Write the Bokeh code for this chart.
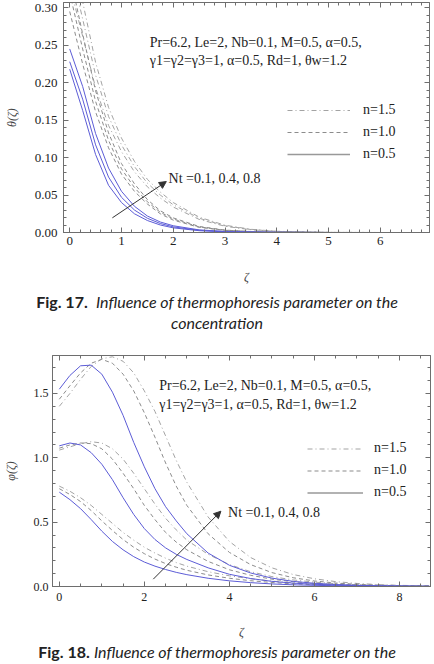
from bokeh.plotting import figure
from bokeh.layouts import column, row
from bokeh.models import (Range1d, LinearAxis, FixedTicker, Arrow, NormalHead,
                          Legend, LegendItem, Div, CustomJSTickFormatter)
from bokeh.core.properties import value
from bokeh.embed import file_html
from bokeh.resources import INLINE

# ---------------- Fig. 17 data: concentration profiles ----------------
zeta_a = [0, 0.25, 0.5, 0.75, 1.0, 1.25, 1.5, 1.75, 2.0, 2.5, 3.0, 3.5, 4.0, 5.0, 6.0, 7.0]

a_n05_nt01 = [0.218, 0.163, 0.104, 0.063, 0.040, 0.025, 0.016, 0.010, 0.0062, 0.0024, 0.0009, 0.0004, 0.0001, 0, 0, 0]
a_n05_nt04 = [0.228, 0.178, 0.117, 0.074, 0.047, 0.030, 0.019, 0.012, 0.0075, 0.0029, 0.0011, 0.0005, 0.0002, 0, 0, 0]
a_n05_nt08 = [0.245, 0.195, 0.132, 0.086, 0.055, 0.035, 0.022, 0.014, 0.009, 0.0035, 0.0014, 0.0006, 0.0002, 0, 0, 0]

a_n10_nt01 = [0.295, 0.225, 0.161, 0.113, 0.078, 0.055, 0.038, 0.025, 0.0165, 0.0069, 0.0028, 0.0011, 0.0004, 0, 0, 0]
a_n10_nt04 = [0.32, 0.245, 0.175, 0.123, 0.085, 0.060, 0.041, 0.027, 0.018, 0.0075, 0.003, 0.0012, 0.0004, 0, 0, 0]
a_n10_nt08 = [0.345, 0.265, 0.189, 0.133, 0.092, 0.065, 0.044, 0.029, 0.0195, 0.0081, 0.0032, 0.0013, 0.0004, 0, 0, 0]

a_n15_nt01 = [0.33, 0.262, 0.193, 0.143, 0.108, 0.081, 0.061, 0.046, 0.034, 0.0175, 0.0083, 0.0037, 0.0014, 0.0002, 0, 0]
a_n15_nt04 = [0.36, 0.285, 0.21, 0.155, 0.117, 0.088, 0.066, 0.050, 0.037, 0.019, 0.009, 0.004, 0.0015, 0.0002, 0, 0]
a_n15_nt08 = [0.39, 0.308, 0.227, 0.167, 0.126, 0.095, 0.071, 0.054, 0.040, 0.0205, 0.0097, 0.0043, 0.0016, 0.0002, 0, 0]

# ---------------- Fig. 18 data ----------------
zeta_b = [0, 0.25, 0.5, 0.75, 1.0, 1.25, 1.5, 1.75, 2.0, 2.25, 2.5, 2.75, 3.0,
          3.5, 4.0, 4.5, 5.0, 5.5, 6.0, 6.5, 7.0, 7.5, 8.0, 8.7]

b_n05_nt08 = [1.533, 1.64, 1.715, 1.72, 1.65, 1.51, 1.33, 1.12, 0.93, 0.76, 0.62, 0.51, 0.41,
              0.26, 0.165, 0.105, 0.065, 0.04, 0.025, 0.015, 0.009, 0.005, 0.003, 0.001]
b_n10_nt08 = [1.455, 1.56, 1.66, 1.735, 1.765, 1.735, 1.65, 1.52, 1.35, 1.16, 0.96, 0.78, 0.63,
              0.41, 0.265, 0.17, 0.108, 0.068, 0.043, 0.027, 0.017, 0.011, 0.007, 0.004]
b_n15_nt08 = [1.40, 1.50, 1.61, 1.71, 1.77, 1.785, 1.75, 1.66, 1.52, 1.36, 1.17, 0.98, 0.81,
              0.54, 0.35, 0.225, 0.145, 0.093, 0.06, 0.038, 0.024, 0.015, 0.009, 0.005]

b_n05_nt04 = [1.093, 1.115, 1.10, 1.04, 0.95, 0.83, 0.69, 0.56, 0.45, 0.365, 0.30, 0.25, 0.21,
              0.145, 0.095, 0.062, 0.04, 0.026, 0.017, 0.011, 0.007, 0.0045, 0.003, 0.0015]
b_n10_nt04 = [1.075, 1.10, 1.115, 1.11, 1.07, 0.99, 0.88, 0.76, 0.63, 0.52, 0.42, 0.345, 0.285,
              0.195, 0.13, 0.087, 0.057, 0.037, 0.024, 0.016, 0.01, 0.0065, 0.004, 0.002]
b_n15_nt04 = [1.06, 1.085, 1.11, 1.125, 1.115, 1.07, 0.99, 0.88, 0.76, 0.64, 0.53, 0.44, 0.36,
              0.25, 0.17, 0.115, 0.077, 0.051, 0.034, 0.022, 0.014, 0.009, 0.006, 0.003]

b_n05_nt01 = [0.733, 0.675, 0.605, 0.52, 0.43, 0.35, 0.285, 0.232, 0.19, 0.158, 0.132, 0.11, 0.092,
              0.064, 0.044, 0.03, 0.02, 0.013, 0.009, 0.006, 0.004, 0.0025, 0.0015, 0.001]
b_n10_nt01 = [0.76, 0.715, 0.66, 0.59, 0.51, 0.435, 0.365, 0.305, 0.255, 0.213, 0.178, 0.15, 0.126,
              0.09, 0.064, 0.045, 0.031, 0.021, 0.014, 0.0095, 0.0065, 0.0043, 0.0028, 0.0015]
b_n15_nt01 = [0.78, 0.74, 0.69, 0.63, 0.56, 0.49, 0.42, 0.36, 0.305, 0.26, 0.22, 0.186, 0.158,
              0.115, 0.083, 0.06, 0.042, 0.029, 0.02, 0.014, 0.0095, 0.0064, 0.0043, 0.0025]

legend_labels = ["n=1.5", "n=1.0", "n=0.5"]
param_lines = ["Pr=6.2, Le=2, Nb=0.1, M=0.5, \u03b1=0.5,",
               "\u03b31=\u03b32=\u03b33=1, \u03b1=0.5, Rd=1, \u03b8w=1.2"]
nt_label = "Nt =0.1, 0.4, 0.8"

SERIF = "Liberation Serif"
BLUE = "#5c5cd6"
DASH_C = "#8c8c8c"
DOT_C = "#a3a3a3"
FRAME_C = "#6e6e6e"
DASHED = "4 3"
DASHDOT = "5 3 1 3"


def style_frame(p, xt, xm, yt, ym, tick_px, xlab_std, ylab_std, xlabel_std, ylabel_std, yfmt):
    p.grid.visible = False
    p.background_fill_color = "white"
    p.border_fill_color = "white"
    p.outline_line_color = FRAME_C
    p.outline_line_width = 1
    xb = p.below[0]
    yl = p.left[0]
    for ax in (xb, yl):
        ax.axis_line_color = FRAME_C
        ax.major_tick_line_color = FRAME_C
        ax.minor_tick_line_color = FRAME_C
        ax.major_tick_in = 5
        ax.major_tick_out = 0
        ax.minor_tick_in = 3
        ax.minor_tick_out = 0
        ax.major_label_text_font = SERIF
        ax.major_label_text_font_size = tick_px
        ax.major_label_text_color = "#222222"
        ax.axis_label_text_font = SERIF
        ax.axis_label_text_font_style = "italic"
        ax.axis_label_text_font_size = "12px"
        ax.axis_label_text_color = "#444444"
    xb.ticker = FixedTicker(ticks=xt, minor_ticks=xm)
    yl.ticker = FixedTicker(ticks=yt, minor_ticks=ym)
    yl.formatter = CustomJSTickFormatter(code=f"return tick.toFixed({yfmt})")
    xb.major_label_standoff = xlab_std
    yl.major_label_standoff = ylab_std
    xb.axis_label_standoff = xlabel_std
    yl.axis_label_standoff = ylabel_std
    # mirrored tick marks on the top and right edges
    blank = CustomJSTickFormatter(code="return ''")
    for side, t, m in (("above", xt, xm), ("right", yt, ym)):
        ax = LinearAxis(ticker=FixedTicker(ticks=t, minor_ticks=m), formatter=blank,
                        axis_line_color=FRAME_C, major_tick_line_color=FRAME_C,
                        minor_tick_line_color=FRAME_C, major_tick_in=5, major_tick_out=0,
                        minor_tick_in=3, minor_tick_out=0, major_label_standoff=0,
                        axis_label_standoff=0, major_label_text_font_size="0px")
        p.add_layout(ax, side)


def add_legend(p, x, y, gw, gh, std, spc):
    # key-only renderers: a single NaN point, so nothing shows inside the frame
    nan = float("nan")
    r15 = p.line(x=[nan], y=[nan], line_color=DOT_C, line_dash=DASHDOT, line_width=1.2)
    r10 = p.line(x=[nan], y=[nan], line_color=DASH_C, line_dash=DASHED, line_width=1.2)
    r05 = p.line(x=[nan], y=[nan], line_color="#999999", line_width=1.6)
    items = [LegendItem(label=lab, renderers=[r]) for lab, r in zip(legend_labels, (r15, r10, r05))]
    leg = Legend(items=items, location=(x, y), glyph_width=gw, glyph_height=gh,
                 label_height=gh, label_standoff=std, spacing=spc, padding=0, margin=0,
                 border_line_color=None, background_fill_alpha=0,
                 label_text_font=SERIF, label_text_font_size="14px",
                 label_text_color="#222222")
    p.add_layout(leg)


# ---------------- Fig. 17 ----------------
p1 = figure(width=434, height=288, x_range=Range1d(-0.12, 6.95), y_range=Range1d(0, 0.307),
            output_backend="svg", toolbar_location=None,
            min_border_left=63, min_border_right=5, min_border_top=2, min_border_bottom=56,
            x_axis_label="\u03b6", y_axis_label="\u03b8(\u03b6)")
style_frame(p1,
            [0, 1, 2, 3, 4, 5, 6], [i * 0.2 for i in range(35)],
            [0, 0.05, 0.10, 0.15, 0.20, 0.25, 0.30], [i * 0.01 for i in range(31)],
            "13px", 4, 6, 22, 13, 2)

for ys in (a_n15_nt01, a_n15_nt04, a_n15_nt08):
    p1.line(zeta_a, ys, line_color=DOT_C, line_dash=DASHDOT, line_width=1)
for ys in (a_n10_nt01, a_n10_nt04, a_n10_nt08):
    p1.line(zeta_a, ys, line_color=DASH_C, line_dash=DASHED, line_width=1)
for ys in (a_n05_nt01, a_n05_nt04, a_n05_nt08):
    p1.line(zeta_a, ys, line_color=BLUE, line_width=1)

p1.text(x=[1.545, 1.545], y=[0.253, 0.229], text=param_lines, text_font=value(SERIF),
        text_font_size="14px", text_baseline="middle", text_color="#222222")
p1.text(x=[1.91], y=[0.072], text=[nt_label], text_font=value(SERIF),
        text_font_size="14px", text_baseline="middle", text_color="#222222")
p1.add_layout(Arrow(end=NormalHead(size=7, fill_color="#333333", line_color="#333333"),
                    x_start=0.824, y_start=0.0196, x_end=1.866, y_end=0.068,
                    line_color="#333333", line_width=1))
add_legend(p1, 224, 70, 63, 16, 13, 6)

# ---------------- Fig. 18 ----------------
p2 = figure(width=434, height=308, x_range=Range1d(-0.16, 8.73), y_range=Range1d(0, 1.795),
            output_backend="svg", toolbar_location=None,
            min_border_left=51, min_border_right=4, min_border_top=21, min_border_bottom=56,
            x_axis_label="\u03b6", y_axis_label="\u03c6(\u03b6)")
style_frame(p2,
            [0, 2, 4, 6, 8], [i * 0.5 for i in range(18)],
            [0, 0.5, 1.0, 1.5], [i * 0.1 for i in range(18)],
            "12px", 6, 4, 21, 13, 1)

for ys in (b_n15_nt01, b_n15_nt04, b_n15_nt08):
    p2.line(zeta_b, ys, line_color=DOT_C, line_dash=DASHDOT, line_width=1)
for ys in (b_n10_nt01, b_n10_nt04, b_n10_nt08):
    p2.line(zeta_b, ys, line_color=DASH_C, line_dash=DASHED, line_width=1)
for ys in (b_n05_nt01, b_n05_nt04, b_n05_nt08):
    p2.line(zeta_b, ys, line_color=BLUE, line_width=1)

p2.text(x=[2.35, 2.35], y=[1.562, 1.414], text=param_lines, text_font=value(SERIF),
        text_font_size="14px", text_baseline="middle", text_color="#222222")
p2.text(x=[3.97], y=[0.575], text=[nt_label], text_font=value(SERIF),
        text_font_size="14px", text_baseline="middle", text_color="#222222")
p2.add_layout(Arrow(end=NormalHead(size=7, fill_color="#333333", line_color="#333333"),
                    x_start=2.21, y_start=0.057, x_end=3.80, y_end=0.585,
                    line_color="#333333", line_width=1))
add_legend(p2, 255, 86, 56, 15, 11, 6)

CAP = ("width:434px;display:block;font-family:'Lato';font-size:16px;color:#222;"
       "text-align:center;")
cap17 = Div(text=f"<div style=\"{CAP}line-height:21px;padding-top:3px;\"><b>Fig. 17.</b>&nbsp; "
                 f"<i>Influence of thermophoresis parameter on the</i><br><i>concentration</i></div>",
            width=434, height=46, margin=0)
cap18 = Div(text=f"<div style=\"{CAP}line-height:20px;\"><b>Fig. 18.</b> <i>Influence of "
                 f"thermophoresis parameter on the</i></div>",
            width=434, height=22, margin=0)

# each figure sits in its own row so the two frames keep their own left edges
page = column(row(p1), cap17, row(p2), cap18, spacing=0)
open("out.html", "w").write(file_html(page, INLINE))
